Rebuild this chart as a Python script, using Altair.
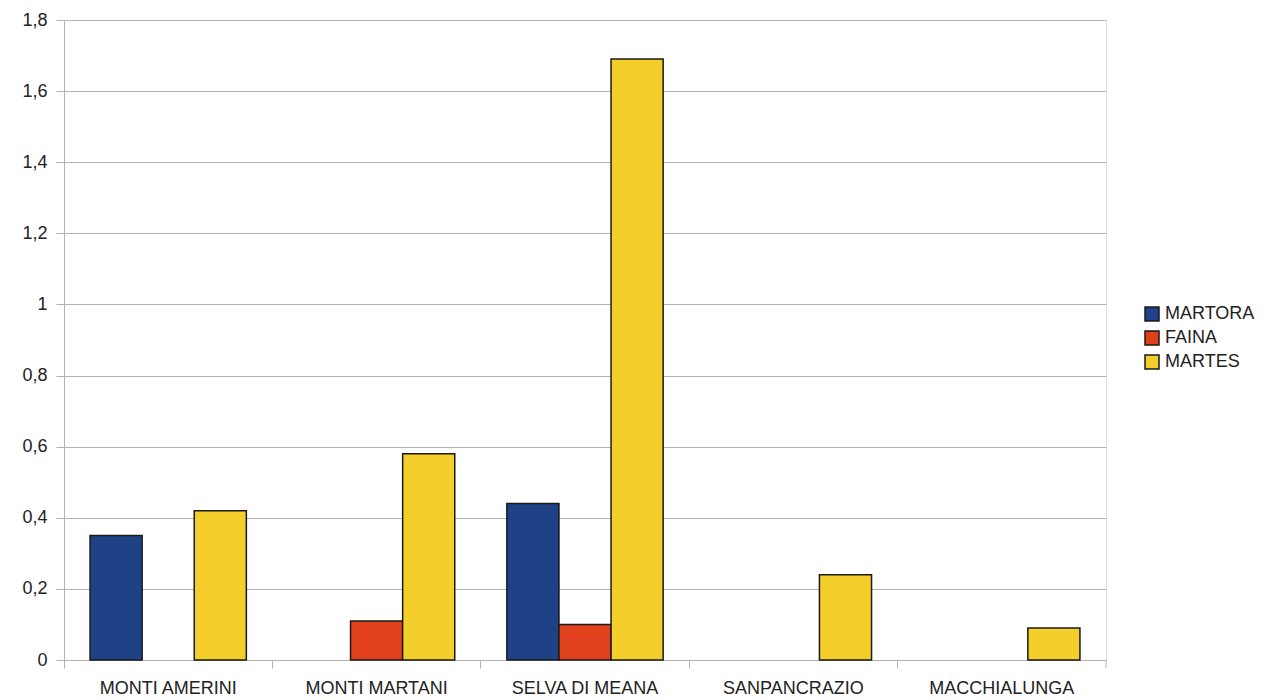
import altair as alt
import pandas as pd

categories = ["MONTI  AMERINI", "MONTI MARTANI", "SELVA DI MEANA", "SANPANCRAZIO", "MACCHIALUNGA"]
series = ["MARTORA", "FAINA", "MARTES"]
martora = [0.35, 0, 0.44, 0, 0]
faina = [0, 0.11, 0.10, 0, 0]
martes = [0.42, 0.58, 1.69, 0.24, 0.09]
colors = ["#1f4287", "#e0401c", "#f4cf2c"]
y_ticks = [0, 0.2, 0.4, 0.6, 0.8, 1.0, 1.2, 1.4, 1.6, 1.8]

rows = []
for s, vals in zip(series, [martora, faina, martes]):
    for c, v in zip(categories, vals):
        rows.append({"cat": c, "series": s, "value": v})
df = pd.DataFrame(rows)

W, H = 1042, 640
FONT = "Liberation Sans"

bars = alt.Chart(df).transform_filter("datum.value > 0").mark_bar(
    stroke="#1a1a1a", strokeWidth=1.5
).encode(
    x=alt.X("cat:N", sort=categories, title=None,
            scale=alt.Scale(paddingInner=0, paddingOuter=0),
            axis=alt.Axis(labelAngle=0, bandPosition=0, tickSize=8, labelPadding=11,
                          labelFontSize=18, labelColor="#222", domainColor="#b3b3b3",
                          tickColor="#b3b3b3", grid=False, labelFont=FONT)),
    xOffset=alt.XOffset("series:N", sort=series,
                        scale=alt.Scale(domain=series, paddingOuter=0.5, paddingInner=0)),
    y=alt.Y("value:Q", title=None,
            scale=alt.Scale(domain=[0, 1.8], nice=False),
            axis=alt.Axis(values=y_ticks, tickSize=8, labelPadding=9, labelFontSize=18,
                          labelColor="#222", domainColor="#b3b3b3", tickColor="#b3b3b3",
                          gridColor="#b3b3b3", labelFont=FONT,
                          labelExpr="replace(format(datum.value, '~g'), '.', ',')")),
    color=alt.Color("series:N", sort=series,
                    scale=alt.Scale(domain=series, range=colors),
                    legend=alt.Legend(title=None, orient="none", legendX=1079, legendY=285,
                                      symbolType="square", symbolSize=196,
                                      symbolStrokeColor="#1a1a1a", symbolStrokeWidth=1.5,
                                      labelFontSize=18, labelColor="#222", labelFont=FONT,
                                      rowPadding=4, labelOffset=4)),
)

right_tick = alt.Chart(pd.DataFrame({"a": [0]})).mark_rule(color="#b3b3b3", strokeWidth=1).encode(
    x=alt.value(W), y=alt.value(H), y2=alt.value(H + 8)
)

chart = alt.layer(bars, right_tick).properties(
    width=W, height=H,
    padding={"left": 64, "top": 20, "right": 161, "bottom": 40},
    autosize=alt.AutoSizeParams(type="none"),
).configure_view(stroke="#b3b3b3").configure(background="white")

chart.save("out.html", embed_options={"renderer": "svg", "actions": False})
